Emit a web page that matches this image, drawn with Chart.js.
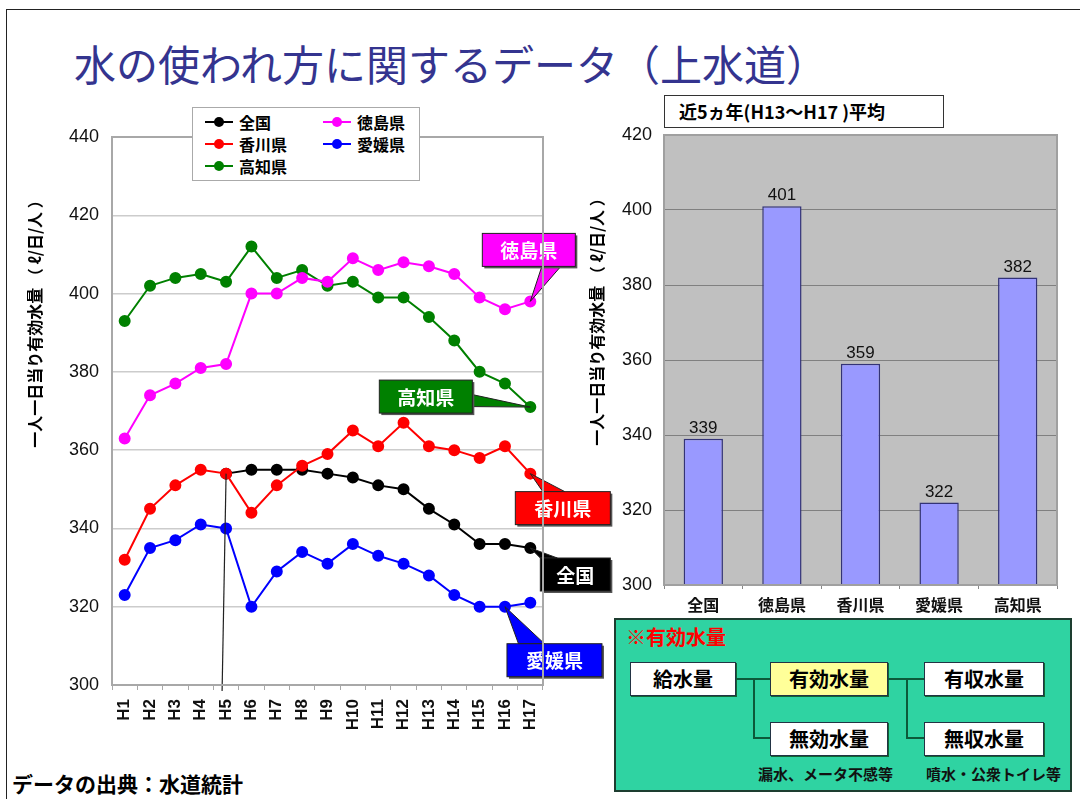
<!DOCTYPE html>
<html>
<head>
<meta charset="utf-8">
<script src="https://cdn.jsdelivr.net/npm/chart.js@4"></script>
<style>
  body { margin: 0; background: #fff; font-family: "Noto Sans CJK JP", sans-serif; }
  #page { position: relative; width: 1080px; height: 799px; overflow: hidden; }
  .frame { position: absolute; left: 6px; top: 9px; right: -2px; bottom: -2px; border-top: 1px solid #222; border-left: 1px solid #222; }
  .title { position: absolute; left: 74px; top: 32px; font-size: 42px; color: #34348f; white-space: nowrap; }
  .wrap { position: absolute; }
  .ytitle { position: absolute; width: 320px; height: 22px; line-height: 22px; text-align: center; transform: rotate(-90deg); font: bold 16px "Noto Sans CJK JP"; color: #000; white-space: pre; }
  .legend { position: absolute; left: 192px; top: 107px; width: 226px; height: 72px; background: #fff; border: 1px solid #aaa; font: bold 16px "Noto Sans CJK JP"; }
  .legend div { position: absolute; display: flex; align-items: center; height: 22px; }
  .legend i { display: inline-block; position: relative; width: 28px; height: 2px; margin-right: 6px; }
  .legend i b { position: absolute; left: 9px; top: -4px; width: 10px; height: 10px; border-radius: 50%; }
  .avgbox { position: absolute; left: 664px; top: 95px; width: 280px; height: 33px; border: 1px solid #333; background: #fff; font: bold 18px "Noto Sans CJK JP"; line-height: 31px; padding-left: 14px; box-sizing: border-box; white-space: pre; }
  .panel { position: absolute; left: 614px; top: 618px; width: 458px; height: 174px; background: #2fd3a2; border: 2px solid #1d3d30; box-sizing: border-box; }
  .panel .head { position: absolute; left: 10px; top: 2px; color: #f00; font: bold 20px "Noto Sans CJK JP"; }
  .bx { position: absolute; height: 34px; background: #fff; border: 1px solid #234; box-sizing: border-box; font: bold 20px "Noto Sans CJK JP"; text-align: center; line-height: 31px; box-shadow: 1px 1px 0 #163; }
  .ln { position: absolute; background: #0c5a3a; }
  .note { position: absolute; font: bold 15px "Noto Sans CJK JP"; color: #111; white-space: nowrap; }
  .source { position: absolute; left: 12px; top: 768px; font: bold 21px "Noto Sans CJK JP"; color: #000; }
</style>
</head>
<body>
<div id="page">
  <div class="frame"></div>
  <div class="title">水の使われ方に関するデータ（上水道）</div>

  <div class="wrap" style="left:0;top:100px;width:615px;height:640px;"><canvas id="lineChart"></canvas></div>
  <div class="ytitle" style="left:-127px;top:309px;">一人一日当り有効水量 （ ℓ/日/人 ）</div>
  <div class="legend" id="legend"></div>

  <div class="wrap" style="left:580px;top:85px;width:490px;height:535px;"><canvas id="barChart"></canvas></div>
  <div class="ytitle" style="left:435px;top:307px;">一人一日当り有効水量 （ ℓ/日/人 ）</div>
  <div class="avgbox">近5ヵ年(H13～H17 )平均</div>

  <div class="panel">
    <div class="head">※有効水量</div>
    <div class="bx" style="left:14px;top:42px;width:106px;">給水量</div>
    <div class="bx" style="left:154px;top:42px;width:118px;background:#ffff99;">有効水量</div>
    <div class="bx" style="left:308px;top:42px;width:120px;">有収水量</div>
    <div class="bx" style="left:154px;top:102px;width:118px;">無効水量</div>
    <div class="bx" style="left:308px;top:102px;width:120px;">無収水量</div>
    <div class="ln" style="left:120px;top:58px;width:34px;height:2px;"></div>
    <div class="ln" style="left:137px;top:58px;width:2px;height:61px;"></div>
    <div class="ln" style="left:137px;top:117px;width:17px;height:2px;"></div>
    <div class="ln" style="left:272px;top:58px;width:36px;height:2px;"></div>
    <div class="ln" style="left:290px;top:58px;width:2px;height:61px;"></div>
    <div class="ln" style="left:290px;top:117px;width:18px;height:2px;"></div>
    <div class="note" style="left:142px;top:143px;">漏水、メータ不感等</div>
    <div class="note" style="left:310px;top:143px;">噴水・公衆トイレ等</div>
  </div>

  <div class="source">データの出典：水道統計</div>
</div>

<script>
// 年度 (平成)
const years = ['H1','H2','H3','H4','H5','H6','H7','H8','H9','H10','H11','H12','H13','H14','H15','H16','H17'];

// 一人一日当り有効水量 (ℓ/日/人) -- 全国はH5から
const zenkoku   = [null, null, null, null, 354, 355, 355, 355, 354, 353, 351, 350, 345, 341, 336, 336, 335];
const tokushima = [363, 374, 377, 381, 382, 400, 400, 404, 403, 409, 406, 408, 407, 405, 399, 396, 398];
const kagawa    = [332, 345, 351, 355, 354, 344, 351, 356, 359, 365, 361, 367, 361, 360, 358, 361, 354];
const ehime     = [323, 335, 337, 341, 340, 320, 329, 334, 331, 336, 333, 331, 328, 323, 320, 320, 321];
const kochi     = [393, 402, 404, 405, 403, 412, 404, 406, 402, 403, 399, 399, 394, 388, 380, 377, 371];

// 近5ヵ年平均
const avgNames  = ['全国', '徳島県', '香川県', '愛媛県', '高知県'];
const avgValues = [339, 401, 359, 322, 382];

const jp = '"Noto Sans CJK JP", sans-serif';
const num = '"Liberation Sans", Arial, sans-serif';

// 系列ごとの設定 (名前, 色, データ, 重なり順)
const series = [
    { name: '全国',   color: '#000000', data: zenkoku,   order: 4 },
    { name: '徳島県', color: '#ff00ff', data: tokushima, order: 2 },
    { name: '香川県', color: '#ff0000', data: kagawa,    order: 1 },
    { name: '愛媛県', color: '#0000ff', data: ehime,     order: 3 },
    { name: '高知県', color: '#008000', data: kochi,     order: 5 }
];

// 吹き出し: どの点を指すか + 箱の位置(点からのずれ) + しっぽの根元
const callouts = [
    { s: 1, i: 16, text: '徳島県', dx: -1.5, dy: -51.5, w: 93, h: 33, tail: [[13, 16.5], [32, 16.5]] },
    { s: 4, i: 16, text: '高知県', dx: -104.5, dy: -10.5, w: 93, h: 33, tail: [[46.5, -2], [46.5, 10]] },
    { s: 2, i: 16, text: '香川県', dx: 32.5, dy: 34.5, w: 95, h: 33, tail: [[-20, -16.5], [2, -16.5]] },
    { s: 0, i: 16, text: '全国', dx: 45, dy: 26.5, w: 70, h: 33, tail: [[-35, -16.5], [-18, -16.5]] },
    { s: 3, i: 15, text: '愛媛県', dx: 49.5, dy: 53.5, w: 95, h: 33, tail: [[-36, -16.5], [-10, -16.5]] }
];

// 凡例 (HTML)
const legendPos = [[12, 3], [130, 3], [12, 25], [130, 25], [12, 47]];
const legendEl = document.getElementById('legend');
series.forEach((s, k) => {
    const d = document.createElement('div');
    d.style.left = legendPos[k][0] + 'px';
    d.style.top = legendPos[k][1] + 'px';
    d.innerHTML = '<i style="background:' + s.color + '"><b style="background:' + s.color + '"></b></i>' + s.name;
    legendEl.appendChild(d);
});

// 白い背景と枠線
const plotFrame = {
    id: 'plotFrame',
    beforeDraw(chart, args, opts) {
        const a = chart.chartArea, c = chart.ctx;
        c.save();
        c.fillStyle = opts.fill;
        c.fillRect(a.left, a.top, a.right - a.left, a.bottom - a.top);
        c.restore();
    },
    afterDraw(chart, args, opts) {
        const a = chart.chartArea, c = chart.ctx;
        c.save();
        c.strokeStyle = opts.border;
        c.lineWidth = 2;
        c.strokeRect(a.left, a.top, a.right - a.left, a.bottom - a.top);
        c.restore();
    }
};

// H5 の縦線と吹き出し
const notes = {
    id: 'notes',
    afterDatasetsDraw(chart) {
        const c = chart.ctx;
        const x = chart.scales.x, y = chart.scales.y;
        c.save();
        const px = x.getPixelForValue(4), py = y.getPixelForValue(zenkoku[4]);
        c.strokeStyle = '#222';
        c.lineWidth = 1.2;
        c.beginPath();
        c.moveTo(px, py);
        c.lineTo(px - 4, chart.chartArea.bottom + 6);
        c.stroke();

        callouts.forEach(cl => {
            const s = series[cl.s];
            const p = chart.getDatasetMeta(cl.s).data[cl.i];
            const cx = p.x + cl.dx, cy = p.y + cl.dy;
            c.fillStyle = s.color;
            c.strokeStyle = '#222';
            c.lineWidth = 1;
            // しっぽ
            c.beginPath();
            c.moveTo(cx + cl.tail[0][0], cy + cl.tail[0][1]);
            c.lineTo(p.x, p.y);
            c.lineTo(cx + cl.tail[1][0], cy + cl.tail[1][1]);
            c.closePath();
            c.fill();
            c.stroke();
            // 箱
            c.fillStyle = '#555';
            c.fillRect(cx - cl.w / 2 + 2, cy - cl.h / 2 + 2, cl.w, cl.h);
            c.fillStyle = s.color;
            c.fillRect(cx - cl.w / 2, cy - cl.h / 2, cl.w, cl.h);
            c.strokeRect(cx - cl.w / 2, cy - cl.h / 2, cl.w, cl.h);
            c.fillStyle = '#fff';
            c.font = 'bold 19px ' + jp;
            c.textAlign = 'center';
            c.textBaseline = 'middle';
            c.fillText(cl.text, cx, cy + 1);
        });
        c.restore();
    }
};

new Chart(document.getElementById('lineChart'), {
    type: 'line',
    data: {
        labels: years,
        datasets: series.map(s => ({
            label: s.name,
            data: s.data,
            borderColor: s.color,
            backgroundColor: s.color,
            pointBackgroundColor: s.color,
            pointBorderColor: s.color,
            pointRadius: 5,
            borderWidth: 2,
            order: s.order,
            tension: 0
        }))
    },
    options: {
        responsive: true,
        maintainAspectRatio: false,
        animation: false,
        layout: { padding: { left: 0, top: 37, right: 72, bottom: 0 } },
        plugins: {
            legend: { display: false },
            tooltip: { enabled: false },
            plotFrame: { fill: '#ffffff', border: '#a8a8a8' }
        },
        scales: {
            x: {
                offset: true,
                grid: { drawOnChartArea: false, drawTicks: true, tickLength: 5, offset: true, color: '#a8a8a8' },
                border: { display: false },
                ticks: { color: '#111', font: { family: num, size: 17, weight: 'bold' }, minRotation: 90, maxRotation: 90, padding: 9, autoSkip: false },
                afterFit: s => { s.height = 55; }
            },
            y: {
                min: 300, max: 440,
                ticks: { stepSize: 20, color: '#111', font: { family: num, size: 18 }, padding: 13 },
                grid: { color: '#cccccc', drawTicks: false, lineWidth: 1.5 },
                border: { display: false },
                afterFit: s => { s.width = 112; }
            }
        }
    },
    plugins: [plotFrame, notes]
});

// 棒の上の数値
const barLabels = {
    id: 'barLabels',
    afterDatasetsDraw(chart) {
        const c = chart.ctx;
        c.save();
        c.fillStyle = '#111';
        c.font = '17px ' + num;
        c.textAlign = 'center';
        c.textBaseline = 'bottom';
        chart.getDatasetMeta(0).data.forEach((bar, k) => {
            c.fillText(avgValues[k], bar.x, bar.y - 2);
        });
        c.restore();
    }
};

new Chart(document.getElementById('barChart'), {
    type: 'bar',
    data: {
        labels: avgNames,
        datasets: [{
            data: avgValues,
            backgroundColor: '#9999ff',
            borderColor: '#333377',
            borderWidth: 1.5,
            barPercentage: 0.5,
            categoryPercentage: 1
        }]
    },
    options: {
        responsive: true,
        maintainAspectRatio: false,
        animation: false,
        layout: { padding: { left: 0, top: 50, right: 13, bottom: 0 } },
        plugins: {
            legend: { display: false },
            tooltip: { enabled: false },
            plotFrame: { fill: '#c0c0c0', border: '#a0a0a0' }
        },
        scales: {
            x: {
                grid: { drawOnChartArea: false, drawTicks: true, tickLength: 4, offset: true, color: '#888' },
                border: { display: false },
                ticks: { color: '#111', font: { family: jp, size: 16, weight: 'bold' }, padding: 6 },
                afterFit: s => { s.height = 35; }
            },
            y: {
                min: 300, max: 420,
                ticks: { stepSize: 20, color: '#111', font: { family: num, size: 18 }, padding: 12 },
                grid: { color: '#808080', drawTicks: false },
                border: { display: false },
                afterFit: s => { s.width = 84; }
            }
        }
    },
    plugins: [plotFrame, barLabels]
});
</script>
</body>
</html>
